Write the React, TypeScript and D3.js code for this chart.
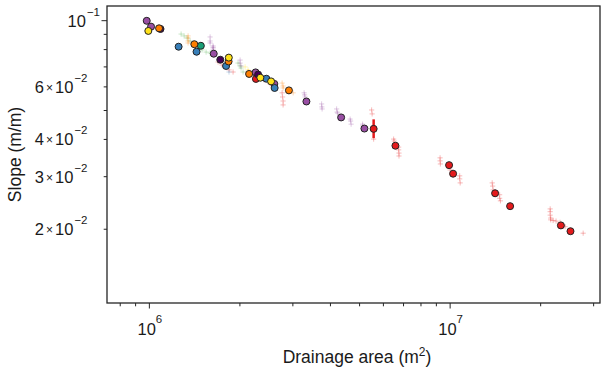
import React from 'react';
import * as d3 from 'd3';

const W = 602;
const H = 369;
const PLOT = { left: 107, right: 600, top: 6, bottom: 303 };

const xDomain = [7.23e5, 3.15e7];
const yDomain = [0.01132, 0.112];

const xMajorTicks = [1e6, 1e7];
const xMinorTicks = [8e5, 9e5, 2e6, 3e6, 4e6, 5e6, 6e6, 7e6, 8e6, 9e6, 2e7, 3e7];
const yMajorTicks = [0.1];
const yMinorTicks = [0.02, 0.03, 0.04, 0.05, 0.06, 0.07, 0.08, 0.09];
const yMinorLabels = [
  { v: 0.06, mant: '6', exp: '−2' },
  { v: 0.04, mant: '4', exp: '−2' },
  { v: 0.03, mant: '3', exp: '−2' },
  { v: 0.02, mant: '2', exp: '−2' },
];
const xMajorLabels = [{ v: 1e6, exp: '6' }, { v: 1e7, exp: '7' }];
const yMajorLabels = [{ v: 0.1, exp: '−1' }];

// circle markers (drainage area m^2, slope m/m)
const redPts: [number, number][] = [
  [2.261e6, 0.0638], [5.568e6, 0.0434], [6.579e6, 0.0381], [9.92e6, 0.0328], [1.023e7, 0.0307],
  [1.411e7, 0.0264], [1.583e7, 0.0239], [2.335e7, 0.0206], [2.513e7, 0.0197],
];
const purplePts: [number, number][] = [
  [9.8e5, 0.0999], [1.013e6, 0.0955], [1.637e6, 0.0775], [2.255e6, 0.0671], [2.603e6, 0.0614],
  [3.328e6, 0.0536], [4.341e6, 0.0474], [5.188e6, 0.0435],
];
const darkPts: [number, number][] = [[1.089e6, 0.0938], [1.721e6, 0.074], [2.299e6, 0.066]];
const bluePts: [number, number][] = [
  [1.251e6, 0.0818], [1.435e6, 0.0787], [1.799e6, 0.0705], [2.449e6, 0.0639], [2.609e6, 0.0595],
];
const tealPts: [number, number][] = [[1.483e6, 0.0824]];
const orangePts: [number, number][] = [
  [1.077e6, 0.0943], [1.411e6, 0.0834], [1.834e6, 0.073], [2.146e6, 0.0663], [2.911e6, 0.0584],
];
const yellowPts: [number, number][] = [[9.92e5, 0.0924], [1.837e6, 0.0752], [2.339e6, 0.0644], [2.539e6, 0.0626]];

// faint "+" markers
const faintGreen: [number, number][] = [
  [1.275e6, 0.0902], [1.305e6, 0.0889], [1.335e6, 0.0875], [1.366e6, 0.0855],
  [1.497e6, 0.0798], [1.544e6, 0.0785], [1.592e6, 0.0779],
  [1.972e6, 0.0721], [2.003e6, 0.0705], [2.018e6, 0.0694], [2.049e6, 0.0673],
];
const faintOrange: [number, number][] = [
  [1.345e6, 0.0889], [1.345e6, 0.0875], [1.345e6, 0.0855], [1.345e6, 0.0842],
  [2.763e6, 0.0618], [2.784e6, 0.0604], [2.784e6, 0.0595], [3.006e6, 0.0573],
];
const faintPurple: [number, number][] = [
  [1.592e6, 0.0882], [1.592e6, 0.0855], [1.592e6, 0.0842],
  [1.629e6, 0.0823], [1.629e6, 0.081], [1.629e6, 0.0798], [1.629e6, 0.0815],
  [2.003e6, 0.0738], [2.003e6, 0.0721], [2.018e6, 0.0705],
  [3.27e6, 0.0573], [3.282e6, 0.0564], [3.295e6, 0.0555],
  [3.739e6, 0.0526], [3.746e6, 0.0514], [3.753e6, 0.0506],
  [4.194e6, 0.0506], [4.21e6, 0.0494], [4.226e6, 0.049],
  [4.65e6, 0.0468], [4.668e6, 0.0461], [4.686e6, 0.045],
  [5.117e6, 0.045], [5.117e6, 0.0444],
];
const faintRed: [number, number][] = [
  [1.692e6, 0.0727], [1.745e6, 0.071], [1.799e6, 0.07], [1.841e6, 0.0684], [1.898e6, 0.0673],
  [2.129e6, 0.0673], [2.195e6, 0.0658], [2.299e6, 0.0643], [2.407e6, 0.0633], [2.52e6, 0.0614], [2.6e6, 0.0604],
  [2.763e6, 0.0573], [2.773e6, 0.0555], [2.784e6, 0.0538], [2.784e6, 0.0522],
  [5.483e6, 0.0502], [5.504e6, 0.0487], [5.568e6, 0.0401],
  [6.489e6, 0.0401], [6.52e6, 0.0395],
  [6.743e6, 0.0377], [6.743e6, 0.0369], [6.76e6, 0.036], [6.76e6, 0.0352],
  [9.26e6, 0.0347], [9.26e6, 0.0339], [9.28e6, 0.0331], [1.0e7, 0.0316],
  [1.076e7, 0.0302], [1.076e7, 0.0295], [1.08e7, 0.0286],
  [1.38e7, 0.0286], [1.385e7, 0.0279], [1.39e7, 0.0271],
  [1.461e7, 0.0261], [1.461e7, 0.0254], [1.47e7, 0.0249],
  [2.151e7, 0.0234], [2.151e7, 0.0229], [2.151e7, 0.0223], [2.16e7, 0.0218], [2.16e7, 0.0215],
  [2.2e7, 0.0214], [2.25e7, 0.0213], [2.32e7, 0.0211], [2.37e7, 0.0206], [2.412e7, 0.0204],
  [2.769e7, 0.0194],
];
const faintBlue: [number, number][] = [[1.84e6, 0.0673], [1.44e6, 0.0775]];
const faintYellow: [number, number][] = [[2.081e6, 0.07], [2.129e6, 0.0684], [2.129e6, 0.0673]];

// error bars: [area, low, high]
const redErrors: [number, number, number][] = [[5.568e6, 0.0404, 0.0467]];

const C = {
  red: '#e41a1c',
  purple: '#984ea3',
  dark: '#440154',
  blue: '#377eb8',
  teal: '#1a9e76',
  orange: '#ff7f00',
  yellow: '#ffe119',
  green: '#4daf4a',
};

const FONT = '"Liberation Sans", Arial, Helvetica, sans-serif';

export default function App() {
  const x = d3.scaleLog().domain(xDomain).range([PLOT.left, PLOT.right]);
  const y = d3.scaleLog().domain(yDomain).range([PLOT.bottom, PLOT.top]);

  const faint = [
    { pts: faintGreen, c: C.green },
    { pts: faintOrange, c: C.orange },
    { pts: faintPurple, c: C.purple },
    { pts: faintRed, c: C.red },
    { pts: faintBlue, c: C.blue },
    { pts: faintYellow, c: C.yellow },
  ];
  const circles = [
    { pts: redPts, c: C.red },
    { pts: purplePts, c: C.purple },
    { pts: darkPts, c: C.dark },
    { pts: bluePts, c: C.blue },
    { pts: tealPts, c: C.teal },
    { pts: orangePts, c: C.orange },
    { pts: yellowPts, c: C.yellow },
  ];
  const cs = 2.6;

  return (
    <svg width={W} height={H} style={{ position: 'absolute', left: 0, top: 0, background: '#fff' }} fontFamily={FONT}>
      <rect x={0} y={0} width={W} height={H} fill="#fff" />
      {faint.map((s, i) => (
        <g key={i} stroke={s.c} strokeOpacity={0.3} strokeWidth={1}>
          {s.pts.map((p, j) => {
            const cx = x(p[0]);
            const cy = y(p[1]);
            return (
              <g key={j}>
                <line x1={cx - cs} x2={cx + cs} y1={cy} y2={cy} />
                <line x1={cx} x2={cx} y1={cy - cs} y2={cy + cs} />
              </g>
            );
          })}
        </g>
      ))}
      {redErrors.map((e, i) => (
        <line key={i} x1={x(e[0])} x2={x(e[0])} y1={y(e[1])} y2={y(e[2])} stroke={C.red} strokeWidth={2.5} />
      ))}
      {circles.map((s, i) => (
        <g key={i} fill={s.c} stroke="#222" strokeWidth={1}>
          {s.pts.map((p, j) => (
            <circle key={j} cx={x(p[0])} cy={y(p[1])} r={3.5} />
          ))}
        </g>
      ))}
      {/* frame */}
      <rect x={PLOT.left} y={PLOT.top} width={PLOT.right - PLOT.left} height={PLOT.bottom - PLOT.top}
        fill="none" stroke="#262626" strokeWidth={1.3} />
      {/* ticks */}
      <g stroke="#262626" strokeWidth={1}>
        {xMajorTicks.map((t) => (
          <line key={'xM' + t} x1={x(t)} x2={x(t)} y1={PLOT.bottom} y2={PLOT.bottom + 5.5} />
        ))}
        {xMinorTicks.map((t) => (
          <line key={'xm' + t} x1={x(t)} x2={x(t)} y1={PLOT.bottom} y2={PLOT.bottom + 3.3} />
        ))}
        {yMajorTicks.map((t) => (
          <line key={'yM' + t} x1={PLOT.left - 5.5} x2={PLOT.left} y1={y(t)} y2={y(t)} />
        ))}
        {yMinorTicks.map((t) => (
          <line key={'ym' + t} x1={PLOT.left - 3.3} x2={PLOT.left} y1={y(t)} y2={y(t)} />
        ))}
      </g>
      <g fill="#1a1a1a" fontSize={16.5}>
        {xMajorLabels.map((l) => (
          <text key={l.v} x={x(l.v) + 0.5} y={335} textAnchor="middle">
            10<tspan fontSize={11.5} dy={-12}>{l.exp}</tspan>
          </text>
        ))}
        {yMajorLabels.map((l) => (
          <text key={l.v} x={100} y={y(l.v) + 6} textAnchor="end">
            10<tspan fontSize={11.5} dy={-11} dx={1}>{l.exp}</tspan>
          </text>
        ))}
        {yMinorLabels.map((l) => (
          <text key={l.v} x={87.5} y={y(l.v) + 6} textAnchor="end">
            {l.mant}<tspan fontSize={12} dx={2} dy={-1}>×</tspan><tspan dx={2} dy={1}>10</tspan>
            <tspan fontSize={11.5} dy={-11} dx={1}>{l.exp}</tspan>
          </text>
        ))}
      </g>
      <g fill="#1a1a1a" fontSize={17.5}>
        <text x={357} y={363.3} textAnchor="middle">
          Drainage area (m<tspan fontSize={12} dy={-7}>2</tspan><tspan dy={7}>)</tspan>
        </text>
        <text transform={`translate(21,${(PLOT.top + PLOT.bottom) / 2}) rotate(-90)`} textAnchor="middle">
          Slope (m/m)
        </text>
      </g>
    </svg>
  );
}
